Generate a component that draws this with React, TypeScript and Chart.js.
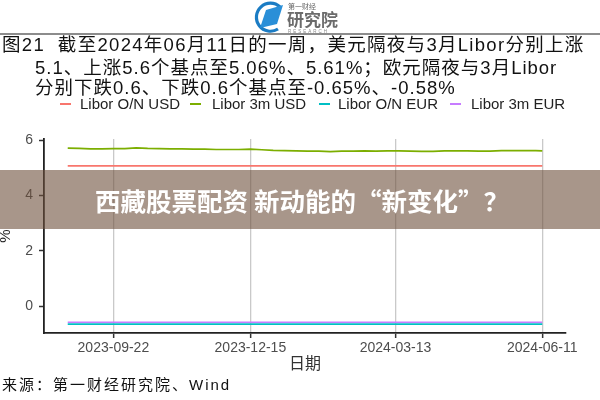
import React, { useEffect, useRef } from 'react';
import { Chart, registerables } from 'chart.js';

Chart.register(...registerables);

// ---------- data ----------
const dates = [
  '2023-08-25', '2023-09-01', '2023-09-08', '2023-09-15', '2023-09-22', '2023-09-29',
  '2023-10-06', '2023-10-13', '2023-10-20', '2023-10-27', '2023-11-03', '2023-11-10',
  '2023-11-17', '2023-11-24', '2023-12-01', '2023-12-08', '2023-12-15', '2023-12-22',
  '2023-12-29', '2024-01-05', '2024-01-12', '2024-01-19', '2024-01-26', '2024-02-02',
  '2024-02-09', '2024-02-16', '2024-02-23', '2024-03-01', '2024-03-08', '2024-03-15',
  '2024-03-22', '2024-03-29', '2024-04-05', '2024-04-12', '2024-04-19', '2024-04-26',
  '2024-05-03', '2024-05-10', '2024-05-17', '2024-05-24', '2024-05-31', '2024-06-07',
  '2024-06-11',
];

const liborOnUsd = [
  5.07, 5.07, 5.07, 5.07, 5.07, 5.07, 5.07, 5.07, 5.07, 5.07, 5.07, 5.07,
  5.07, 5.07, 5.07, 5.07, 5.07, 5.07, 5.07, 5.07, 5.07, 5.07, 5.07, 5.07,
  5.07, 5.07, 5.07, 5.07, 5.07, 5.07, 5.07, 5.07, 5.07, 5.07, 5.07, 5.07,
  5.07, 5.07, 5.07, 5.07, 5.07, 5.07, 5.07,
];

const libor3mUsd = [
  5.71, 5.70, 5.68, 5.68, 5.69, 5.69, 5.72, 5.70, 5.69, 5.68, 5.68, 5.67,
  5.67, 5.66, 5.66, 5.66, 5.67, 5.65, 5.63, 5.62, 5.61, 5.60, 5.60, 5.58,
  5.60, 5.60, 5.61, 5.60, 5.61, 5.61, 5.60, 5.59, 5.59, 5.61, 5.61, 5.61,
  5.60, 5.60, 5.62, 5.62, 5.62, 5.62, 5.61,
];

const liborOnEur = [
  -0.65, -0.65, -0.65, -0.65, -0.65, -0.65, -0.65, -0.65, -0.65, -0.65, -0.65, -0.65,
  -0.65, -0.65, -0.65, -0.65, -0.65, -0.65, -0.65, -0.65, -0.65, -0.65, -0.65, -0.65,
  -0.65, -0.65, -0.65, -0.65, -0.65, -0.65, -0.65, -0.65, -0.65, -0.65, -0.65, -0.65,
  -0.65, -0.65, -0.65, -0.65, -0.65, -0.65, -0.65,
];

const libor3mEur = [
  -0.58, -0.58, -0.58, -0.58, -0.58, -0.58, -0.58, -0.58, -0.58, -0.58, -0.58, -0.58,
  -0.58, -0.58, -0.58, -0.58, -0.58, -0.58, -0.58, -0.58, -0.58, -0.58, -0.58, -0.58,
  -0.58, -0.58, -0.58, -0.58, -0.58, -0.58, -0.58, -0.58, -0.58, -0.58, -0.58, -0.58,
  -0.58, -0.58, -0.58, -0.58, -0.58, -0.58, -0.58,
];

const seriesNames = ['Libor O/N USD', 'Libor 3m USD', 'Libor O/N EUR', 'Libor 3m EUR'];
const seriesColors = ['#F8766D', '#7CAE00', '#00BFC4', '#C77CFF'];
const xTickLabels = ['2023-09-22', '2023-12-15', '2024-03-13', '2024-06-11'];
const yTickValues = [0, 2, 4, 6];

const titleLines = [
  '图21  截至2024年06月11日的一周，美元隔夜与3月Libor分别上涨',
  '5.1、上涨5.6个基点至5.06%、5.61%；欧元隔夜与3月Libor',
  '分别下跌0.6、下跌0.6个基点至-0.65%、-0.58%',
];
const xAxisTitle = '日期';
const yAxisTitle = '%';
const bannerText = '西藏股票配资 新动能的“新变化”？';
const sourceText = '来源：第一财经研究院、Wind';

// ---------- helpers ----------
const DAY = 86400000;
const origin = Date.parse(xTickLabels[0]);
const dayOf = (s: string) => Math.round((Date.parse(s) - origin) / DAY);

const FONT = '"Liberation Sans", "Noto Sans CJK SC", Arial, sans-serif';
const CJK = '"Liberation Sans", "Noto Sans CJK SC", sans-serif';

export default function App() {
  const ref = useRef<HTMLCanvasElement>(null);

  useEffect(() => {
    if (!ref.current) return;
    const all = [liborOnUsd, libor3mUsd, liborOnEur, libor3mEur];
    const xs = dates.map(dayOf);
    const xMinD = Math.min(...xs);
    const xMaxD = Math.max(...xs);
    const xPad = (xMaxD - xMinD) * 0.05;
    const flat = all.flat();
    const yMinD = Math.min(...flat);
    const yMaxD = Math.max(...flat);
    const yPad = (yMaxD - yMinD) * 0.05;

    const labelByDay: Record<number, string> = {};
    xTickLabels.forEach((s) => (labelByDay[dayOf(s)] = s));

    const chart = new Chart(ref.current, {
      type: 'line',
      data: {
        datasets: all.map((arr, k) => ({
          label: seriesNames[k],
          data: dates.map((d, i) => ({ x: dayOf(d), y: arr[i] })),
          borderColor: seriesColors[k],
          backgroundColor: seriesColors[k],
          borderWidth: 1.7,
          pointRadius: 0,
          tension: 0,
          fill: false,
          order: 4 - k,
        })),
      },
      options: {
        responsive: false,
        animation: false,
        layout: { padding: { top: 139, right: 34, bottom: 22, left: 0 } },
        plugins: {
          legend: { display: false },
          tooltip: { enabled: false },
          title: { display: false },
        },
        scales: {
          x: {
            type: 'linear',
            min: xMinD - xPad,
            max: xMaxD + xPad,
            afterBuildTicks: (scale: any) => {
              scale.ticks = xTickLabels.map((s) => ({ value: dayOf(s) }));
            },
            afterFit: (scale: any) => {
              scale.height = 45;
            },
            ticks: {
              callback: (v: any) => labelByDay[Math.round(Number(v))] ?? '',
              color: '#4d4d4d',
              font: { family: FONT, size: 14 },
              padding: 2,
              maxRotation: 0,
              autoSkip: false,
            },
            grid: {
              display: true,
              drawOnChartArea: true,
              color: '#c9c9c9',
              lineWidth: 1.3,
              tickLength: 5,
              tickColor: '#333333',
              tickWidth: 1.5,
            },
            border: { display: true, color: '#222222', width: 1.8 },
            title: {
              display: true,
              text: xAxisTitle,
              color: '#333333',
              font: { family: CJK, size: 16 },
              padding: { top: 0, bottom: 4 },
            },
          },
          y: {
            type: 'linear',
            min: yMinD - yPad,
            max: yMaxD + yPad,
            afterBuildTicks: (scale: any) => {
              scale.ticks = yTickValues.map((v) => ({ value: v }));
            },
            afterFit: (scale: any) => {
              scale.width = 44;
            },
            ticks: {
              color: '#4d4d4d',
              font: { family: FONT, size: 14 },
              padding: 6,
            },
            grid: {
              display: true,
              drawOnChartArea: false,
              tickLength: 5,
              tickColor: '#333333',
              tickWidth: 1.5,
            },
            border: { display: true, color: '#222222', width: 1.8 },
            title: {
              display: true,
              text: yAxisTitle,
              color: '#222222',
              font: { family: FONT, size: 15, lineHeight: 1 },
              padding: { top: -2, bottom: 0 },
            },
          },
        },
      },
    } as any);
    return () => chart.destroy();
  }, []);

  const titleTops = [34, 57, 77];
  const titleLefts = [2, 35, 35];
  const legendKeys = [60, 190, 319, 450];
  const legendTexts = [80, 212, 338, 471];

  return (
    <div
      style={{
        position: 'absolute',
        left: 0,
        top: 0,
        width: 600,
        height: 400,
        background: '#ffffff',
        overflow: 'hidden',
        fontFamily: FONT,
      }}
    >
      <canvas
        ref={ref}
        width={600}
        height={400}
        style={{ position: 'absolute', left: 0, top: 0, width: 600, height: 400 }}
      />

      {/* logo */}
      <svg
        width={100}
        height={36}
        viewBox="0 0 100 36"
        style={{ position: 'absolute', left: 250, top: 0 }}
      >
        <path
          d="M 30 7 A 14 14 0 1 0 28 29"
          fill="none"
          stroke="#1b7cc4"
          strokeWidth={3.2}
        />
        <polygon points="10,28 16,10 33,5 27,24" fill="#2a8fd8" />
        <text x={38} y={9} fontSize={7} fill="#666" fontFamily={CJK}>
          第一财经
        </text>
        <text x={37} y={26} fontSize={17} fill="#6b6b6b" fontFamily={CJK} fontWeight={700}>
          研究院
        </text>
        <text x={38} y={33} fontSize={4.5} fill="#888" fontFamily={FONT} letterSpacing={2}>
          RESEARCH
        </text>
      </svg>
      <div
        style={{
          position: 'absolute',
          left: 0,
          top: 33,
          width: 600,
          height: 2,
          background: '#8c8c8c',
        }}
      />

      {/* title */}
      {titleLines.map((t, i) => (
        <div
          key={i}
          style={{
            position: 'absolute',
            left: titleLefts[i],
            top: titleTops[i],
            fontSize: 18.5,
            lineHeight: '22px',
            letterSpacing: i === 0 ? 1.3 : 1,
            whiteSpace: 'pre',
            color: '#111111',
            fontFamily: CJK,
          }}
        >
          {t}
        </div>
      ))}

      {/* legend */}
      {seriesNames.map((n, i) => (
        <React.Fragment key={n}>
          <div
            style={{
              position: 'absolute',
              left: legendKeys[i],
              top: 103,
              width: 11,
              height: 2,
              background: seriesColors[i],
            }}
          />
          <div
            style={{
              position: 'absolute',
              left: legendTexts[i],
              top: 95,
              fontSize: 15,
              lineHeight: '18px',
              whiteSpace: 'pre',
              color: '#222222',
              fontFamily: FONT,
            }}
          >
            {n}
          </div>
        </React.Fragment>
      ))}

      {/* banner overlay */}
      <div
        style={{
          position: 'absolute',
          left: 0,
          top: 170,
          width: 600,
          height: 59,
          background: 'rgba(110, 80, 60, 0.6)',
          display: 'flex',
          alignItems: 'center',
          justifyContent: 'center',
          color: '#ffffff',
          fontSize: 25.5,
          fontWeight: 700,
          fontFamily: '"Noto Sans CJK SC", sans-serif',
          whiteSpace: 'pre',
          paddingLeft: 4,
          boxSizing: 'border-box',
        }}
      >
        {bannerText}
      </div>

      {/* source */}
      <div
        style={{
          position: 'absolute',
          left: 2,
          top: 376,
          fontSize: 15,
          lineHeight: '18px',
          letterSpacing: 2,
          whiteSpace: 'pre',
          color: '#111111',
          fontFamily: CJK,
        }}
      >
        {sourceText}
      </div>
    </div>
  );
}
